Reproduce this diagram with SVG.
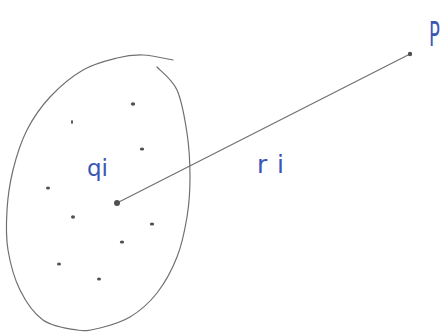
<svg xmlns="http://www.w3.org/2000/svg" width="444" height="332" viewBox="0 0 444 332">
<style>
.pen{fill:none;stroke:#707070;stroke-width:1.2;stroke-linecap:round;stroke-linejoin:round}
.dot{fill:#505050}
.lbl{fill:#3b55b5;font-family:"DejaVu Sans",sans-serif;font-weight:normal}
</style>
<rect width="444" height="332" fill="#ffffff"/>
<g id="cluster">
<path class="pen" d="M173,60 C168,59.2 152.3,55.3 143,55 C133.7,54.7 127,55.5 117,58 C107,60.5 94.2,63.5 83,70 C71.8,76.5 59.3,87 50,97 C40.7,107 33.2,117.8 27,130 C20.8,142.2 16.3,156.7 13,170 C9.7,183.3 7.8,196.7 7,210 C6.2,223.3 5.8,236.7 8,250 C10.2,263.3 14.2,278.3 20,290 C25.8,301.7 33.5,313.3 43,320 C52.5,326.7 67.5,328.7 77,330 C86.5,331.3 91.2,330.2 100,328 C108.8,325.8 120.5,322.8 130,317 C139.5,311.2 149.2,303 157,293 C164.8,283 172,269.7 177,257 C182,244.3 184.8,230.3 187,217 C189.2,203.7 190,191 190,177 C190,163 189.2,147.5 187,133 C184.8,118.5 182,101 177,90 C172,79 160.3,70.8 157,67"/>
<ellipse class="dot" cx="133" cy="104" rx="2.2" ry="1.8"/>
<ellipse class="dot" cx="72" cy="122" rx="1" ry="2"/>
<ellipse class="dot" cx="142" cy="149" rx="2.2" ry="1.5"/>
<ellipse class="dot" cx="48" cy="188" rx="2" ry="1.6"/>
<ellipse class="dot" cx="73" cy="217" rx="2" ry="1.7"/>
<ellipse class="dot" cx="152" cy="224" rx="2.2" ry="1.6"/>
<ellipse class="dot" cx="122" cy="242" rx="2.2" ry="1.6"/>
<ellipse class="dot" cx="59" cy="264" rx="2" ry="1.5"/>
<ellipse class="dot" cx="99" cy="279" rx="2" ry="1.5"/>
</g>
<g id="connectors">
<path class="pen" d="M117,203 L410,54" stroke-width="1"/>
</g>
<g id="qi">
<circle class="dot" cx="117" cy="203" r="3"/>
<text class="lbl" x="87" y="176" font-size="23">qi</text>
</g>
<g id="P">
<circle class="dot" cx="410" cy="54" r="2.2"/>
<text class="lbl" font-size="18" transform="translate(429,46) scale(1,1.9)">P</text>
</g>
<g id="ri">
<text class="lbl" x="257" y="173" font-size="25" textLength="27" lengthAdjust="spacing">ri</text>
</g>
</svg>
